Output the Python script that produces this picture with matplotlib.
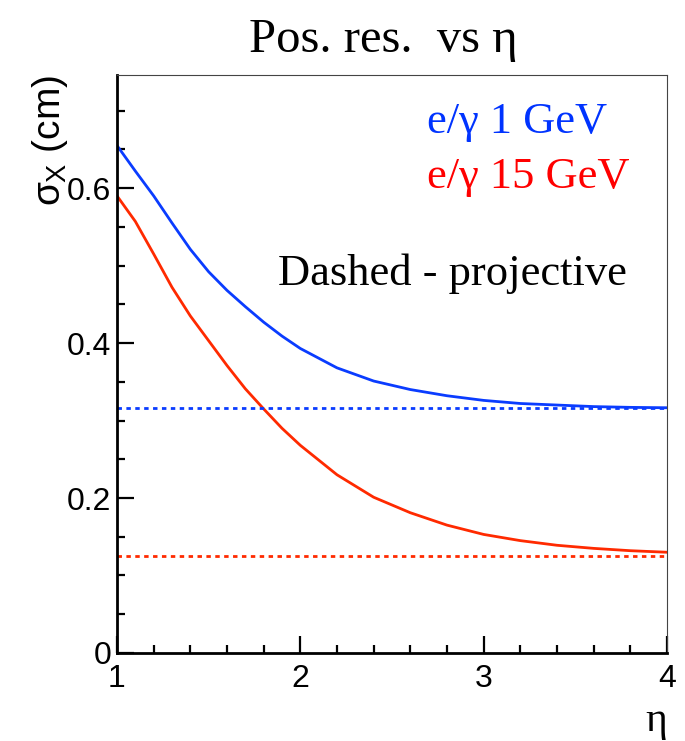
import numpy as np
import matplotlib
matplotlib.use('Agg')
import matplotlib.pyplot as plt

plt.rcParams['font.family'] = ['Liberation Sans', 'DejaVu Sans']
plt.rcParams['mathtext.fontset'] = 'custom'
plt.rcParams['mathtext.rm'] = 'Liberation Sans'
plt.rcParams['mathtext.it'] = 'Liberation Sans'

# values
eta = [1.0, 1.1, 1.2, 1.3, 1.4, 1.5, 1.6, 1.7, 1.8, 1.9, 2.0,
       2.2, 2.4, 2.6, 2.8, 3.0, 3.2, 3.4, 3.6, 3.8, 4.0]
sig_1gev = [0.655, 0.622, 0.590, 0.555, 0.521, 0.492, 0.468, 0.447, 0.427, 0.409, 0.393,
            0.368, 0.351, 0.340, 0.332, 0.326, 0.322, 0.320, 0.318, 0.317, 0.3165]
sig_15gev = [0.590, 0.557, 0.515, 0.472, 0.435, 0.403, 0.371, 0.341, 0.315, 0.290, 0.268,
             0.230, 0.201, 0.181, 0.165, 0.153, 0.145, 0.139, 0.135, 0.132, 0.130]
proj_eta = [1.0, 4.0]
proj_1gev = [0.316, 0.316]
proj_15gev = [0.125, 0.125]

blue = '#0a3cff'
red = '#ff2a00'

fig = plt.figure(figsize=(6.85, 7.41), dpi=100)
ax = fig.add_axes([0.1708, 0.1188, 0.8029, 0.78])

ax.plot(eta, sig_1gev, color=blue, lw=2)
ax.plot(eta, sig_15gev, color=red, lw=2)
ax.plot(proj_eta, proj_1gev, color=blue, lw=2, dashes=(1.6, 1.6))
ax.plot(proj_eta, proj_15gev, color=red, lw=2, dashes=(1.6, 1.6))

ax.set_xlim(1, 4)
ax.set_ylim(0, 0.746)
ax.set_xticks([1, 2, 3, 4])
ax.set_xticks(np.arange(1, 4.01, 0.2), minor=True)
ax.set_yticks([0, 0.2, 0.4, 0.6])
ax.set_yticklabels(['0', '0.2', '0.4', '0.6'])
ax.set_yticks(np.arange(0, 0.74, 0.05), minor=True)
ax.tick_params(which='both', direction='in', top=False, right=False,
               labelsize=23, width=1.6, color='black')
ax.tick_params(which='major', length=12)
ax.tick_params(which='minor', length=6)
ax.tick_params(axis='x', pad=8)
ax.tick_params(axis='y', pad=4)

for s in ['left', 'bottom']:
    ax.spines[s].set_linewidth(2)
for s in ['top', 'right']:
    ax.spines[s].set_linewidth(0.8)
    ax.spines[s].set_color('#444444')

ax.set_ylabel(r'$\sigma_X$ (cm)', fontsize=28, loc='top')
ax.yaxis.set_label_coords(-0.085, 1.0)
ax.set_xlabel('η', fontsize=30, family='Liberation Serif', loc='right', va='center')
ax.xaxis.set_label_coords(1.0, -0.118)

ax.text(0.564, 0.900, 'e/γ 1 GeV', transform=ax.transAxes, color='#0033ff',
        fontsize=32, family='Liberation Serif', va='baseline')
ax.text(0.564, 0.804, 'e/γ 15 GeV', transform=ax.transAxes, color='#ff0000',
        fontsize=32, family='Liberation Serif', va='baseline')
ax.text(0.293, 0.637, 'Dashed - projective', transform=ax.transAxes, color='black',
        fontsize=32, family='Liberation Serif', va='baseline')

fig.text(0.559, 0.930, 'Pos. res.  vs η', fontsize=35, family='Liberation Serif',
         ha='center', va='baseline')

fig.savefig('out.png', dpi=100)
